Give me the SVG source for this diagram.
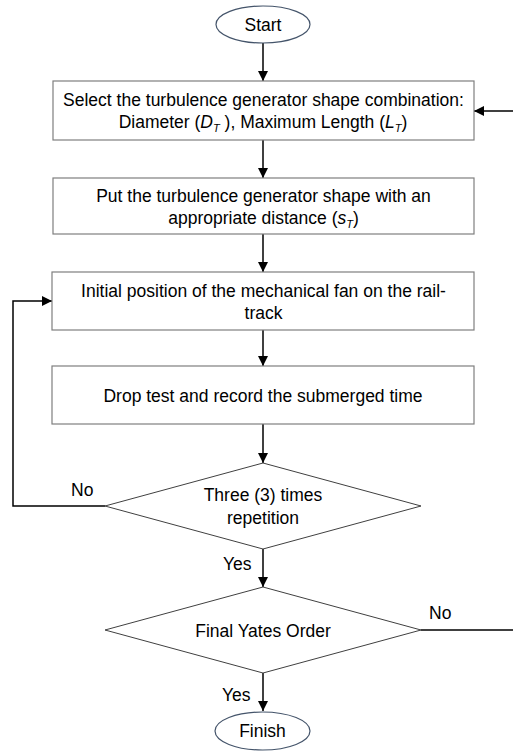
<svg xmlns="http://www.w3.org/2000/svg" width="513" height="753" viewBox="0 0 513 753">
<defs>
<marker id="ah" markerWidth="10" markerHeight="10" refX="10" refY="5" orient="auto" markerUnits="userSpaceOnUse">
<path d="M0,0 L10,5 L0,10 Z" fill="#000"/>
</marker>
<style>
.t{font-family:"Liberation Sans",Arial,sans-serif;font-size:17.5px;fill:#000;text-anchor:middle}
.l{font-family:"Liberation Sans",Arial,sans-serif;font-size:17.5px;fill:#000}
.box{fill:#fff;stroke:#7f7f7f;stroke-width:1.2}
.term{fill:#fff;stroke:#44546a;stroke-width:1.2}
.dia{fill:#fff;stroke:#404040;stroke-width:1}
.c{fill:none;stroke:#000;stroke-width:1.5}
.i{font-style:italic}
.s{font-style:italic;font-size:11px}
</style>
</defs>
<rect width="513" height="753" fill="#fff"/>
<g id="connectors">
<line class="c" x1="263" y1="43" x2="263" y2="81" marker-end="url(#ah)"/>
<line class="c" x1="513" y1="111" x2="474" y2="111" marker-end="url(#ah)"/>
<line class="c" x1="263" y1="140" x2="263" y2="178" marker-end="url(#ah)"/>
<line class="c" x1="263" y1="234" x2="263" y2="272" marker-end="url(#ah)"/>
<line class="c" x1="263" y1="330" x2="263" y2="366" marker-end="url(#ah)"/>
<line class="c" x1="263" y1="424" x2="263" y2="463" marker-end="url(#ah)"/>
<polyline class="c" points="105,506 13,506 13,301 52,301" marker-end="url(#ah)"/>
<line class="c" x1="263" y1="549" x2="263" y2="587" marker-end="url(#ah)"/>
<line class="c" x1="421" y1="630" x2="513" y2="630"/>
<line class="c" x1="263" y1="673" x2="263" y2="711" marker-end="url(#ah)"/>
</g>
<g id="start">
<ellipse class="term" cx="263" cy="24.5" rx="47" ry="18.5"/>
<text class="t" x="263" y="31">Start</text>
</g>
<g id="select">
<rect class="box" x="53" y="81" width="421" height="59"/>
<text class="t" x="263.5" y="106">Select the turbulence generator shape combination:</text>
<text class="t" x="263" y="128">Diameter (<tspan class="i">D</tspan><tspan class="s" dy="4">T</tspan><tspan dy="-4"> ), Maximum Length (</tspan><tspan class="i">L</tspan><tspan class="s" dy="4">T</tspan><tspan dy="-4">)</tspan></text>
</g>
<g id="put">
<rect class="box" x="53" y="178" width="421" height="56"/>
<text class="t" x="263.5" y="202">Put the turbulence generator shape with an</text>
<text class="t" x="263.5" y="224">appropriate distance (<tspan class="i">s</tspan><tspan class="s" dy="4">T</tspan><tspan dy="-4">)</tspan></text>
</g>
<g id="initial">
<rect class="box" x="52" y="272" width="422" height="58"/>
<text class="t" x="263.5" y="297">Initial position of the mechanical fan on the rail-</text>
<text class="t" x="263.5" y="319">track</text>
</g>
<g id="drop">
<rect class="box" x="52" y="366" width="422" height="58"/>
<text class="t" x="263" y="402">Drop test and record the submerged time</text>
</g>
<g id="three">
<polygon class="dia" points="263,463 421,506 263,549 105,506"/>
<text class="t" x="263" y="501">Three (3) times</text>
<text class="t" x="263" y="524">repetition</text>
</g>
<g id="yates">
<polygon class="dia" points="263,587 421,630 263,673 105,630"/>
<text class="t" x="263" y="637">Final Yates Order</text>
</g>
<g id="finish">
<ellipse class="term" cx="262.5" cy="731" rx="47.5" ry="19"/>
<text class="t" x="262.5" y="737">Finish</text>
</g>
<g id="labels">
<text class="l" x="71" y="496">No</text>
<text class="l" x="223" y="570">Yes</text>
<text class="l" x="429" y="619">No</text>
<text class="l" x="222" y="701">Yes</text>
</g>
</svg>
